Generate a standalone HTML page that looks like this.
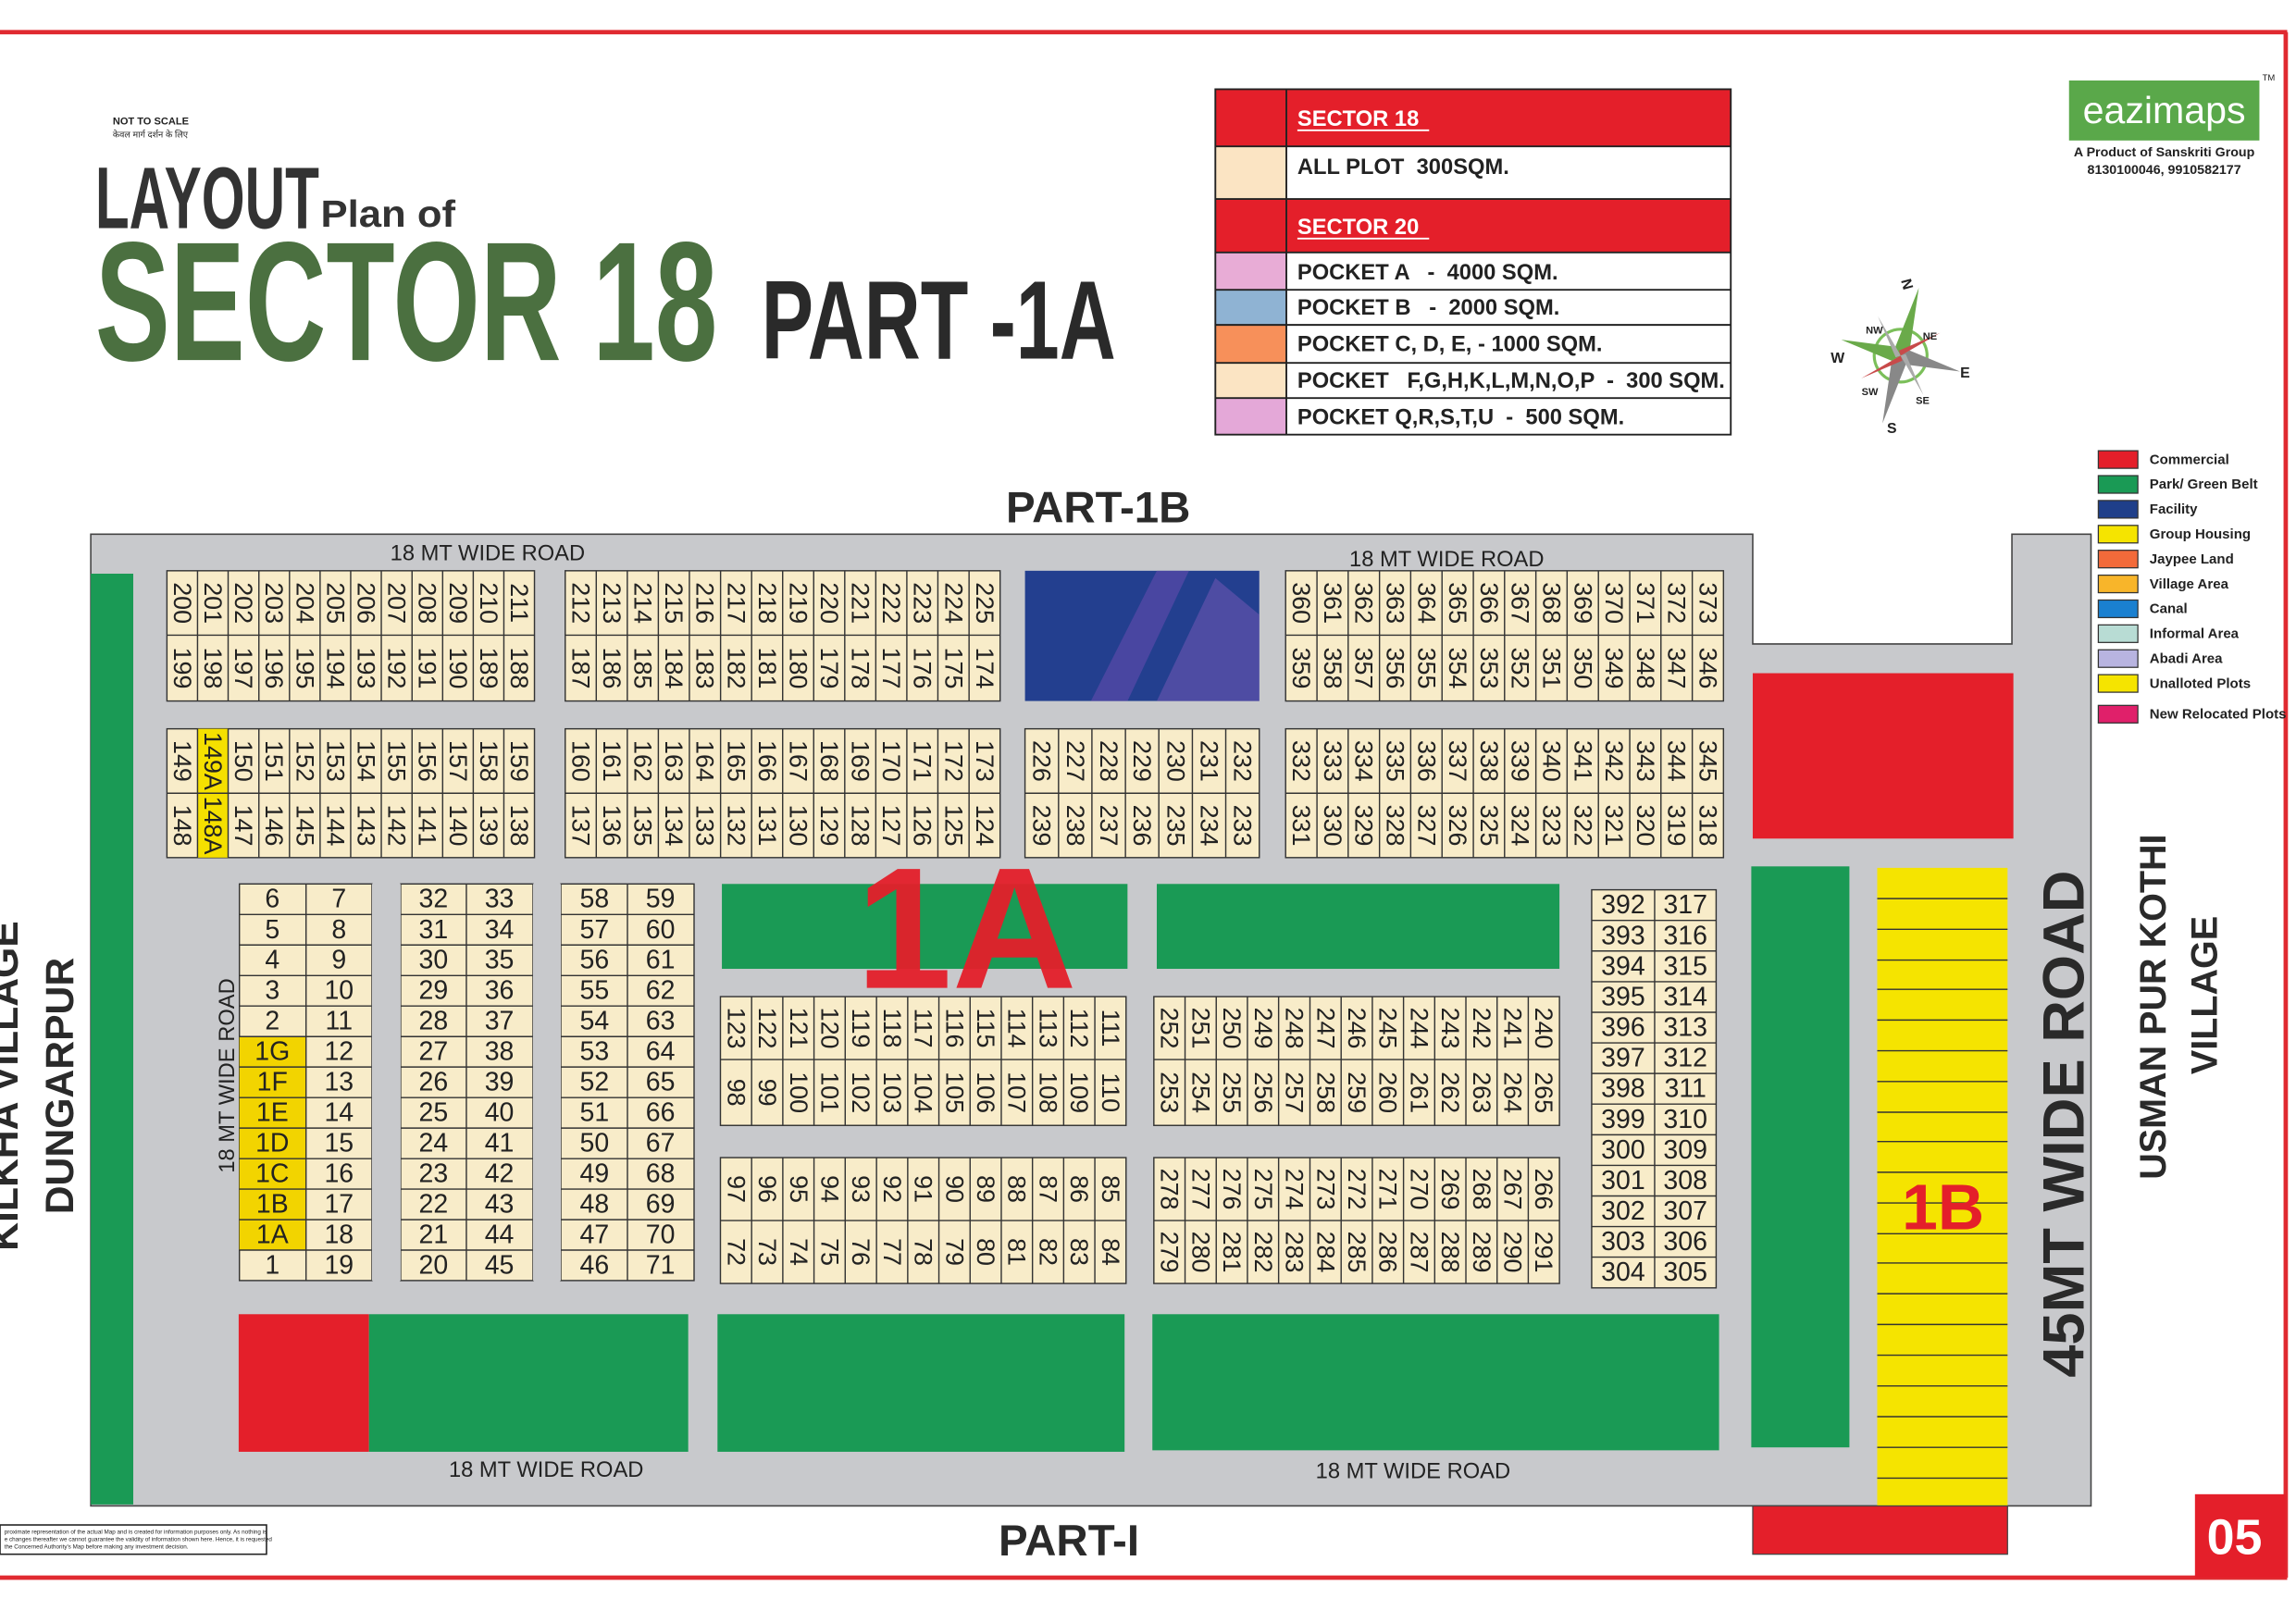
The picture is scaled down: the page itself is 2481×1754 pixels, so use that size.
<!DOCTYPE html>
<html><head><meta charset="utf-8"><style>
html,body{margin:0;padding:0;background:#fff;}
svg{display:block;}
text{font-family:"Liberation Sans",sans-serif;}
.v text{font-size:17px;text-anchor:middle;dominant-baseline:central;fill:#222;}
.h text{font-size:18px;text-anchor:middle;dominant-baseline:central;fill:#222;}
.blk{fill:#f8ecc9;stroke:#333;stroke-width:0.9;}
.ln{stroke:#333;stroke-width:0.9;fill:none;}
.lg text{font-size:15px;font-weight:bold;fill:#222;white-space:pre;}
.rl text{font-size:9.5px;font-weight:bold;fill:#222;}
</style></head><body>
<svg width="2481" height="1754" viewBox="0 0 1568 1109" preserveAspectRatio="none" xmlns="http://www.w3.org/2000/svg" xml:space="preserve">
<rect width="1568" height="1109" fill="#fff"/>
<line x1="0" y1="22" x2="1562" y2="22" stroke="#e02a30" stroke-width="3"/>
<line x1="1561" y1="22" x2="1561" y2="1078" stroke="#e02a30" stroke-width="3"/>
<line x1="0" y1="1078" x2="1562" y2="1078" stroke="#e02a30" stroke-width="3"/>
<rect x="1499" y="1021" width="62" height="57" fill="#e41f2a"/>
<text x="1526" y="1062" font-size="34" font-weight="bold" fill="#fff" text-anchor="middle">05</text>

<text x="77" y="85" font-size="7" font-weight="bold" fill="#222">NOT TO SCALE</text>
<text x="77" y="94" font-size="6" fill="#222" style="font-family:'Liberation Sans','DejaVu Sans',sans-serif">केवल मार्ग दर्शन के लिए</text>
<text x="65" y="156" font-size="60" font-weight="bold" fill="#333" textLength="153" lengthAdjust="spacingAndGlyphs">LAYOUT</text>
<text x="219" y="155" font-size="26" font-weight="bold" fill="#333" textLength="92" lengthAdjust="spacingAndGlyphs">Plan of</text>
<text x="65" y="246" font-size="116" font-weight="bold" fill="#4b7040" textLength="425" lengthAdjust="spacingAndGlyphs">SECTOR 18</text>
<text x="520" y="245" font-size="76" font-weight="bold" fill="#2a2a2a" textLength="242" lengthAdjust="spacingAndGlyphs">PART -1A</text>

<g>
<rect x="830" y="61" width="352" height="39" fill="#e41f2a"/>
<rect x="830" y="100" width="48.5" height="36" fill="#fbe4c3"/>
<rect x="830" y="136" width="352" height="36.5" fill="#e41f2a"/>
<rect x="830" y="172.5" width="48.5" height="25.5" fill="#e8acd6"/>
<rect x="830" y="198" width="48.5" height="24" fill="#8fb3d3"/>
<rect x="830" y="222" width="48.5" height="26" fill="#f7905a"/>
<rect x="830" y="248" width="48.5" height="24" fill="#fbe4c3"/>
<rect x="830" y="272" width="48.5" height="25" fill="#e4a8d8"/>
<path d="M830 61H1182V297H830Z M878.5 61V297 M830 100H1182 M830 136H1182 M830 172.5H1182 M830 198H1182 M830 222H1182 M830 248H1182 M830 272H1182" fill="none" stroke="#222" stroke-width="1.2"/>
<g class="lg">
<text x="886" y="86" style="fill:#fff">SECTOR 18</text>
<line x1="886" y1="89" x2="976" y2="89" stroke="#fff" stroke-width="1.2"/>
<text x="886" y="119">ALL PLOT  300SQM.</text>
<text x="886" y="160" style="fill:#fff">SECTOR 20</text>
<line x1="886" y1="163" x2="976" y2="163" stroke="#fff" stroke-width="1.2"/>
<text x="886" y="191">POCKET A   -  4000 SQM.</text>
<text x="886" y="215">POCKET B   -  2000 SQM.</text>
<text x="886" y="240">POCKET C, D, E, - 1000 SQM.</text>
<text x="886" y="265" textLength="292" lengthAdjust="spacingAndGlyphs">POCKET   F,G,H,K,L,M,N,O,P  -  300 SQM.</text>
<text x="886" y="290">POCKET Q,R,S,T,U  -  500 SQM.</text>
</g>
</g>

<rect x="1413" y="55" width="130" height="41" fill="#5aa84a"/>
<text x="1478" y="84" font-size="26" fill="#fff" text-anchor="middle">eazimaps</text>
<text x="1545" y="55" font-size="6" fill="#222">TM</text>
<text x="1478" y="107" font-size="9" font-weight="bold" fill="#222" text-anchor="middle">A Product of Sanskriti Group</text>
<text x="1478" y="119" font-size="9" font-weight="bold" fill="#222" text-anchor="middle">8130100046, 9910582177</text>

<g transform="translate(1298,243) rotate(15)">
<circle r="18" fill="none" stroke="#7bbf5a" stroke-width="2"/>
<polygon points="0,-48 5,-5 0,0 -5,-5" fill="#6aaa4a"/>
<polygon points="0,48 5,5 0,0 -5,5" fill="#888"/>
<polygon points="42,0 5,5 0,0 5,-5" fill="#888"/>
<polygon points="-42,0 -5,5 0,0 -5,-5" fill="#6aaa4a"/>
<polygon points="22,-22 3,-3 0,0 -2,-3" fill="#c84a4a"/>
<polygon points="-22,22 -3,3 0,0 2,3" fill="#c84a4a"/>
<polygon points="22,22 3,3 0,0 3,-2" fill="#aaa"/>
<polygon points="-22,-22 -3,-3 0,0 -3,2" fill="#aaa"/>
</g>
<g font-size="10" font-weight="bold" fill="#222" text-anchor="middle">
<text x="1303" y="198" transform="rotate(75 1303 194)">N</text>
<text x="1292" y="296">S</text>
<text x="1342" y="258">E</text>
<text x="1255" y="248">W</text>
<text x="1318" y="232" font-size="7">NE</text>
<text x="1280" y="228" font-size="7">NW</text>
<text x="1313" y="276" font-size="7">SE</text>
<text x="1277" y="270" font-size="7">SW</text>
</g>

<g class="rl">
<rect x="1433" y="308" width="27" height="12" fill="#e41f2a" stroke="#333" stroke-width="0.8"/><text x="1468" y="317">Commercial</text>
<rect x="1433" y="325" width="27" height="12" fill="#1a9a55" stroke="#333" stroke-width="0.8"/><text x="1468" y="334">Park/ Green Belt</text>
<rect x="1433" y="342" width="27" height="12" fill="#1f3f8a" stroke="#333" stroke-width="0.8"/><text x="1468" y="351">Facility</text>
<rect x="1433" y="359" width="27" height="12" fill="#f5e400" stroke="#333" stroke-width="0.8"/><text x="1468" y="368">Group Housing</text>
<rect x="1433" y="376" width="27" height="12" fill="#f26a3a" stroke="#333" stroke-width="0.8"/><text x="1468" y="385">Jaypee Land</text>
<rect x="1433" y="393" width="27" height="12" fill="#f8b52a" stroke="#333" stroke-width="0.8"/><text x="1468" y="402">Village Area</text>
<rect x="1433" y="410" width="27" height="12" fill="#1a80d0" stroke="#333" stroke-width="0.8"/><text x="1468" y="419">Canal</text>
<rect x="1433" y="427" width="27" height="12" fill="#b8dcd4" stroke="#333" stroke-width="0.8"/><text x="1468" y="436">Informal Area</text>
<rect x="1433" y="444" width="27" height="12" fill="#b8b4e0" stroke="#333" stroke-width="0.8"/><text x="1468" y="453">Abadi Area</text>
<rect x="1433" y="461" width="27" height="12" fill="#f5e400" stroke="#333" stroke-width="0.8"/><text x="1468" y="470">Unalloted Plots</text>
<rect x="1433" y="482" width="27" height="12" fill="#e0206a" stroke="#333" stroke-width="0.8"/><text x="1468" y="491">New Relocated Plots</text>
</g>

<text x="750" y="357" font-size="30" font-weight="bold" fill="#2a2a2a" text-anchor="middle">PART-1B</text>
<path d="M62 365H1197V440H1374V365H1428V1029H62Z" fill="#c8c9cc" stroke="#444" stroke-width="1"/>
<rect x="62" y="392" width="29" height="636" fill="#1a9a55"/>
<text x="333" y="383" font-size="15" fill="#222" text-anchor="middle">18 MT WIDE  ROAD</text>
<text x="988" y="387" font-size="15" fill="#222" text-anchor="middle">18 MT WIDE  ROAD</text>
<text x="373" y="1009" font-size="15" fill="#222" text-anchor="middle">18 MT WIDE  ROAD</text>
<text x="965" y="1010" font-size="15" fill="#222" text-anchor="middle">18 MT WIDE  ROAD</text>
<text transform="translate(160,735) rotate(-90)" font-size="15" fill="#222" text-anchor="middle">18 MT WIDE  ROAD</text>

<rect x="700" y="390" width="160" height="89" fill="#233f8f"/>
<polygon points="745,479 790,390 812,390 770,479" fill="#5a4aa8" opacity="0.7"/>
<polygon points="790,479 830,395 860,420 860,479" fill="#6a55b0" opacity="0.6"/>

<rect x="493" y="604" width="277" height="58" fill="#1a9a55"/>
<rect x="790" y="604" width="275" height="58" fill="#1a9a55"/>
<rect x="163" y="898" width="89" height="94" fill="#e41f2a"/>
<rect x="252" y="898" width="218" height="94" fill="#1a9a55"/>
<rect x="490" y="898" width="278" height="94" fill="#1a9a55"/>
<rect x="787" y="898" width="387" height="93" fill="#1a9a55"/>
<rect x="1197" y="460" width="178" height="113" fill="#e41f2a"/>
<rect x="1196" y="592" width="67" height="397" fill="#1a9a55"/>
<rect x="1282" y="593" width="89" height="436" fill="#f5e400"/>
<path class="ln" d="M1282 614H1371M1282 635H1371M1282 656H1371M1282 676H1371M1282 697H1371M1282 718H1371M1282 739H1371M1282 760H1371M1282 780H1371M1282 801H1371M1282 822H1371M1282 843H1371M1282 863H1371M1282 884H1371M1282 905H1371M1282 926H1371M1282 947H1371M1282 968H1371M1282 989H1371M1282 1010H1371"/>
<text x="1327" y="840" font-size="44" font-weight="bold" fill="#e41f2a" text-anchor="middle">1B</text>
<rect x="1197" y="1029" width="174" height="33" fill="#e41f2a" stroke="#444" stroke-width="0.8"/>

<rect class="blk" x="114" y="390" width="251" height="89"/>
<rect class="blk" x="386" y="390" width="297" height="89"/>
<rect class="blk" x="114" y="498" width="251" height="88"/>
<rect x="135" y="498" width="20.9" height="88" fill="#f5e000"/>
<rect class="blk" x="386" y="498" width="297" height="88"/>
<rect class="blk" x="700" y="498" width="160" height="88"/>
<rect class="blk" x="878" y="390" width="299" height="89"/>
<rect class="blk" x="878" y="498" width="299" height="88"/>
<rect class="blk" x="492" y="681" width="277" height="88"/>
<rect class="blk" x="492" y="791" width="277" height="86"/>
<rect class="blk" x="788" y="681" width="277" height="88"/>
<rect class="blk" x="788" y="791" width="277" height="86"/>
<rect class="blk" x="163.5" y="604" width="90.5" height="271"/>
<rect x="163.5" y="708.3" width="45.5" height="145.9" fill="#f2d400"/>
<rect class="blk" x="273.6" y="604" width="90.4" height="271"/>
<rect class="blk" x="383" y="604" width="91" height="271"/>
<rect class="blk" x="1087" y="608" width="85" height="272"/>
<path class="ln" d="
M114 434H365 M134.9 390V479M155.8 390V479M176.8 390V479M197.7 390V479M218.6 390V479M239.5 390V479M260.4 390V479M281.4 390V479M302.3 390V479M323.2 390V479M344.1 390V479
M114 542H365 M134.9 498V586M155.8 498V586M176.8 498V586M197.7 498V586M218.6 498V586M239.5 498V586M260.4 498V586M281.4 498V586M302.3 498V586M323.2 498V586M344.1 498V586
M386 434H683 M407.2 390V479M428.4 390V479M449.6 390V479M470.8 390V479M492.1 390V479M513.3 390V479M534.5 390V479M555.7 390V479M576.9 390V479M598.1 390V479M619.3 390V479M640.5 390V479M661.8 390V479
M386 542H683 M407.2 498V586M428.4 498V586M449.6 498V586M470.8 498V586M492.1 498V586M513.3 498V586M534.5 498V586M555.7 498V586M576.9 498V586M598.1 498V586M619.3 498V586M640.5 498V586M661.8 498V586
M700 542H860 M722.9 498V586M745.7 498V586M768.6 498V586M791.4 498V586M814.3 498V586M837.1 498V586
M878 434H1177 M899.4 390V479M920.7 390V479M942.1 390V479M963.4 390V479M984.8 390V479M1006.2 390V479M1027.5 390V479M1048.9 390V479M1070.2 390V479M1091.6 390V479M1113 390V479M1134.3 390V479M1155.7 390V479
M878 542H1177 M899.4 498V586M920.7 498V586M942.1 498V586M963.4 498V586M984.8 498V586M1006.2 498V586M1027.5 498V586M1048.9 498V586M1070.2 498V586M1091.6 498V586M1113 498V586M1134.3 498V586M1155.7 498V586
M492 724H769 M513.3 681V769M534.6 681V769M555.9 681V769M577.2 681V769M598.6 681V769M619.9 681V769M641.2 681V769M662.5 681V769M683.8 681V769M705.1 681V769M726.4 681V769M747.7 681V769
M492 834H769 M513.3 791V877M534.6 791V877M555.9 791V877M577.2 791V877M598.6 791V877M619.9 791V877M641.2 791V877M662.5 791V877M683.8 791V877M705.1 791V877M726.4 791V877M747.7 791V877
M788 724H1065 M809.3 681V769M830.6 681V769M851.9 681V769M873.2 681V769M894.6 681V769M915.9 681V769M937.2 681V769M958.5 681V769M979.8 681V769M1001.1 681V769M1022.4 681V769M1043.7 681V769
M788 834H1065 M809.3 791V877M830.6 791V877M851.9 791V877M873.2 791V877M894.6 791V877M915.9 791V877M937.2 791V877M958.5 791V877M979.8 791V877M1001.1 791V877M1022.4 791V877M1043.7 791V877
M209 604V875 M318.5 604V875 M428.5 604V875
M163.5 624.9H474M163.5 645.7H474M163.5 666.6H474M163.5 687.4H474M163.5 708.3H474M163.5 729.1H474M163.5 750H474M163.5 770.8H474M163.5 791.7H474M163.5 812.5H474M163.5 833.4H474M163.5 854.2H474
M1130 608V880 M1087 628.9H1172M1087 649.8H1172M1087 670.8H1172M1087 691.7H1172M1087 712.6H1172M1087 733.5H1172M1087 754.4H1172M1087 775.4H1172M1087 796.3H1172M1087 817.2H1172M1087 838.1H1172M1087 859H1172"/>
<rect x="254" y="604" width="19.6" height="271" fill="#c8c9cc"/>
<rect x="364" y="604" width="19" height="271" fill="#c8c9cc"/>

<g class="v" transform="rotate(90)">
<text x="412" y="-124.5">200</text><text x="412" y="-145.4">201</text><text x="412" y="-166.3">202</text><text x="412" y="-187.2">203</text><text x="412" y="-208.1">204</text><text x="412" y="-229">205</text><text x="412" y="-250">206</text><text x="412" y="-270.9">207</text><text x="412" y="-291.8">208</text><text x="412" y="-312.7">209</text><text x="412" y="-333.6">210</text><text x="412" y="-354.5">211</text>
<text x="456.5" y="-124.5">199</text><text x="456.5" y="-145.4">198</text><text x="456.5" y="-166.3">197</text><text x="456.5" y="-187.2">196</text><text x="456.5" y="-208.1">195</text><text x="456.5" y="-229">194</text><text x="456.5" y="-250">193</text><text x="456.5" y="-270.9">192</text><text x="456.5" y="-291.8">191</text><text x="456.5" y="-312.7">190</text><text x="456.5" y="-333.6">189</text><text x="456.5" y="-354.5">188</text>
<text x="520" y="-124.5">149</text><text x="520" y="-145.4">149A</text><text x="520" y="-166.3">150</text><text x="520" y="-187.2">151</text><text x="520" y="-208.1">152</text><text x="520" y="-229">153</text><text x="520" y="-250">154</text><text x="520" y="-270.9">155</text><text x="520" y="-291.8">156</text><text x="520" y="-312.7">157</text><text x="520" y="-333.6">158</text><text x="520" y="-354.5">159</text>
<text x="564" y="-124.5">148</text><text x="564" y="-145.4">148A</text><text x="564" y="-166.3">147</text><text x="564" y="-187.2">146</text><text x="564" y="-208.1">145</text><text x="564" y="-229">144</text><text x="564" y="-250">143</text><text x="564" y="-270.9">142</text><text x="564" y="-291.8">141</text><text x="564" y="-312.7">140</text><text x="564" y="-333.6">139</text><text x="564" y="-354.5">138</text>

<text x="412" y="-396.6">212</text><text x="412" y="-417.8">213</text><text x="412" y="-439">214</text><text x="412" y="-460.2">215</text><text x="412" y="-481.4">216</text><text x="412" y="-502.7">217</text><text x="412" y="-523.9">218</text><text x="412" y="-545.1">219</text><text x="412" y="-566.3">220</text><text x="412" y="-587.5">221</text><text x="412" y="-608.7">222</text><text x="412" y="-629.9">223</text><text x="412" y="-651.2">224</text><text x="412" y="-672.4">225</text>
<text x="456.5" y="-396.6">187</text><text x="456.5" y="-417.8">186</text><text x="456.5" y="-439">185</text><text x="456.5" y="-460.2">184</text><text x="456.5" y="-481.4">183</text><text x="456.5" y="-502.7">182</text><text x="456.5" y="-523.9">181</text><text x="456.5" y="-545.1">180</text><text x="456.5" y="-566.3">179</text><text x="456.5" y="-587.5">178</text><text x="456.5" y="-608.7">177</text><text x="456.5" y="-629.9">176</text><text x="456.5" y="-651.2">175</text><text x="456.5" y="-672.4">174</text>
<text x="520" y="-396.6">160</text><text x="520" y="-417.8">161</text><text x="520" y="-439">162</text><text x="520" y="-460.2">163</text><text x="520" y="-481.4">164</text><text x="520" y="-502.7">165</text><text x="520" y="-523.9">166</text><text x="520" y="-545.1">167</text><text x="520" y="-566.3">168</text><text x="520" y="-587.5">169</text><text x="520" y="-608.7">170</text><text x="520" y="-629.9">171</text><text x="520" y="-651.2">172</text><text x="520" y="-672.4">173</text>
<text x="564" y="-396.6">137</text><text x="564" y="-417.8">136</text><text x="564" y="-439">135</text><text x="564" y="-460.2">134</text><text x="564" y="-481.4">133</text><text x="564" y="-502.7">132</text><text x="564" y="-523.9">131</text><text x="564" y="-545.1">130</text><text x="564" y="-566.3">129</text><text x="564" y="-587.5">128</text><text x="564" y="-608.7">127</text><text x="564" y="-629.9">126</text><text x="564" y="-651.2">125</text><text x="564" y="-672.4">124</text>

<text x="520" y="-711.4">226</text><text x="520" y="-734.3">227</text><text x="520" y="-757.1">228</text><text x="520" y="-780">229</text><text x="520" y="-802.9">230</text><text x="520" y="-825.7">231</text><text x="520" y="-848.6">232</text>
<text x="564" y="-711.4">239</text><text x="564" y="-734.3">238</text><text x="564" y="-757.1">237</text><text x="564" y="-780">236</text><text x="564" y="-802.9">235</text><text x="564" y="-825.7">234</text><text x="564" y="-848.6">233</text>

<text x="412" y="-888.7">360</text><text x="412" y="-910">361</text><text x="412" y="-931.4">362</text><text x="412" y="-952.8">363</text><text x="412" y="-974.1">364</text><text x="412" y="-995.5">365</text><text x="412" y="-1016.9">366</text><text x="412" y="-1038.2">367</text><text x="412" y="-1059.6">368</text><text x="412" y="-1080.9">369</text><text x="412" y="-1102.3">370</text><text x="412" y="-1123.7">371</text><text x="412" y="-1145">372</text><text x="412" y="-1166.3">373</text>
<text x="456.5" y="-888.7">359</text><text x="456.5" y="-910">358</text><text x="456.5" y="-931.4">357</text><text x="456.5" y="-952.8">356</text><text x="456.5" y="-974.1">355</text><text x="456.5" y="-995.5">354</text><text x="456.5" y="-1016.9">353</text><text x="456.5" y="-1038.2">352</text><text x="456.5" y="-1059.6">351</text><text x="456.5" y="-1080.9">350</text><text x="456.5" y="-1102.3">349</text><text x="456.5" y="-1123.7">348</text><text x="456.5" y="-1145">347</text><text x="456.5" y="-1166.3">346</text>
<text x="520" y="-888.7">332</text><text x="520" y="-910">333</text><text x="520" y="-931.4">334</text><text x="520" y="-952.8">335</text><text x="520" y="-974.1">336</text><text x="520" y="-995.5">337</text><text x="520" y="-1016.9">338</text><text x="520" y="-1038.2">339</text><text x="520" y="-1059.6">340</text><text x="520" y="-1080.9">341</text><text x="520" y="-1102.3">342</text><text x="520" y="-1123.7">343</text><text x="520" y="-1145">344</text><text x="520" y="-1166.3">345</text>
<text x="564" y="-888.7">331</text><text x="564" y="-910">330</text><text x="564" y="-931.4">329</text><text x="564" y="-952.8">328</text><text x="564" y="-974.1">327</text><text x="564" y="-995.5">326</text><text x="564" y="-1016.9">325</text><text x="564" y="-1038.2">324</text><text x="564" y="-1059.6">323</text><text x="564" y="-1080.9">322</text><text x="564" y="-1102.3">321</text><text x="564" y="-1123.7">320</text><text x="564" y="-1145">319</text><text x="564" y="-1166.3">318</text>

<text x="702.5" y="-502.7">123</text><text x="702.5" y="-524">122</text><text x="702.5" y="-545.3">121</text><text x="702.5" y="-566.6">120</text><text x="702.5" y="-587.9">119</text><text x="702.5" y="-609.2">118</text><text x="702.5" y="-630.5">117</text><text x="702.5" y="-651.8">116</text><text x="702.5" y="-673.1">115</text><text x="702.5" y="-694.4">114</text><text x="702.5" y="-715.7">113</text><text x="702.5" y="-737">112</text><text x="702.5" y="-758.3">111</text>
<text x="746.5" y="-502.7">98</text><text x="746.5" y="-524">99</text><text x="746.5" y="-545.3">100</text><text x="746.5" y="-566.6">101</text><text x="746.5" y="-587.9">102</text><text x="746.5" y="-609.2">103</text><text x="746.5" y="-630.5">104</text><text x="746.5" y="-651.8">105</text><text x="746.5" y="-673.1">106</text><text x="746.5" y="-694.4">107</text><text x="746.5" y="-715.7">108</text><text x="746.5" y="-737">109</text><text x="746.5" y="-758.3">110</text>
<text x="812.5" y="-502.7">97</text><text x="812.5" y="-524">96</text><text x="812.5" y="-545.3">95</text><text x="812.5" y="-566.6">94</text><text x="812.5" y="-587.9">93</text><text x="812.5" y="-609.2">92</text><text x="812.5" y="-630.5">91</text><text x="812.5" y="-651.8">90</text><text x="812.5" y="-673.1">89</text><text x="812.5" y="-694.4">88</text><text x="812.5" y="-715.7">87</text><text x="812.5" y="-737">86</text><text x="812.5" y="-758.3">85</text>
<text x="855.5" y="-502.7">72</text><text x="855.5" y="-524">73</text><text x="855.5" y="-545.3">74</text><text x="855.5" y="-566.6">75</text><text x="855.5" y="-587.9">76</text><text x="855.5" y="-609.2">77</text><text x="855.5" y="-630.5">78</text><text x="855.5" y="-651.8">79</text><text x="855.5" y="-673.1">80</text><text x="855.5" y="-694.4">81</text><text x="855.5" y="-715.7">82</text><text x="855.5" y="-737">83</text><text x="855.5" y="-758.3">84</text>

<text x="702.5" y="-798.7">252</text><text x="702.5" y="-820">251</text><text x="702.5" y="-841.3">250</text><text x="702.5" y="-862.6">249</text><text x="702.5" y="-883.9">248</text><text x="702.5" y="-905.2">247</text><text x="702.5" y="-926.5">246</text><text x="702.5" y="-947.8">245</text><text x="702.5" y="-969.1">244</text><text x="702.5" y="-990.4">243</text><text x="702.5" y="-1011.7">242</text><text x="702.5" y="-1033">241</text><text x="702.5" y="-1054.3">240</text>
<text x="746.5" y="-798.7">253</text><text x="746.5" y="-820">254</text><text x="746.5" y="-841.3">255</text><text x="746.5" y="-862.6">256</text><text x="746.5" y="-883.9">257</text><text x="746.5" y="-905.2">258</text><text x="746.5" y="-926.5">259</text><text x="746.5" y="-947.8">260</text><text x="746.5" y="-969.1">261</text><text x="746.5" y="-990.4">262</text><text x="746.5" y="-1011.7">263</text><text x="746.5" y="-1033">264</text><text x="746.5" y="-1054.3">265</text>
<text x="812.5" y="-798.7">278</text><text x="812.5" y="-820">277</text><text x="812.5" y="-841.3">276</text><text x="812.5" y="-862.6">275</text><text x="812.5" y="-883.9">274</text><text x="812.5" y="-905.2">273</text><text x="812.5" y="-926.5">272</text><text x="812.5" y="-947.8">271</text><text x="812.5" y="-969.1">270</text><text x="812.5" y="-990.4">269</text><text x="812.5" y="-1011.7">268</text><text x="812.5" y="-1033">267</text><text x="812.5" y="-1054.3">266</text>
<text x="855.5" y="-798.7">279</text><text x="855.5" y="-820">280</text><text x="855.5" y="-841.3">281</text><text x="855.5" y="-862.6">282</text><text x="855.5" y="-883.9">283</text><text x="855.5" y="-905.2">284</text><text x="855.5" y="-926.5">285</text><text x="855.5" y="-947.8">286</text><text x="855.5" y="-969.1">287</text><text x="855.5" y="-990.4">288</text><text x="855.5" y="-1011.7">289</text><text x="855.5" y="-1033">290</text><text x="855.5" y="-1054.3">291</text>
</g>

<g class="h">
<text x="186" y="614.4">6</text><text x="186" y="635.3">5</text><text x="186" y="656.1">4</text><text x="186" y="677">3</text><text x="186" y="697.8">2</text><text x="186" y="718.7">1G</text><text x="186" y="739.5">1F</text><text x="186" y="760.4">1E</text><text x="186" y="781.2">1D</text><text x="186" y="802.1">1C</text><text x="186" y="822.9">1B</text><text x="186" y="843.8">1A</text><text x="186" y="864.6">1</text>
<text x="231.5" y="614.4">7</text><text x="231.5" y="635.3">8</text><text x="231.5" y="656.1">9</text><text x="231.5" y="677">10</text><text x="231.5" y="697.8">11</text><text x="231.5" y="718.7">12</text><text x="231.5" y="739.5">13</text><text x="231.5" y="760.4">14</text><text x="231.5" y="781.2">15</text><text x="231.5" y="802.1">16</text><text x="231.5" y="822.9">17</text><text x="231.5" y="843.8">18</text><text x="231.5" y="864.6">19</text>
<text x="296" y="614.4">32</text><text x="296" y="635.3">31</text><text x="296" y="656.1">30</text><text x="296" y="677">29</text><text x="296" y="697.8">28</text><text x="296" y="718.7">27</text><text x="296" y="739.5">26</text><text x="296" y="760.4">25</text><text x="296" y="781.2">24</text><text x="296" y="802.1">23</text><text x="296" y="822.9">22</text><text x="296" y="843.8">21</text><text x="296" y="864.6">20</text>
<text x="341" y="614.4">33</text><text x="341" y="635.3">34</text><text x="341" y="656.1">35</text><text x="341" y="677">36</text><text x="341" y="697.8">37</text><text x="341" y="718.7">38</text><text x="341" y="739.5">39</text><text x="341" y="760.4">40</text><text x="341" y="781.2">41</text><text x="341" y="802.1">42</text><text x="341" y="822.9">43</text><text x="341" y="843.8">44</text><text x="341" y="864.6">45</text>
<text x="406" y="614.4">58</text><text x="406" y="635.3">57</text><text x="406" y="656.1">56</text><text x="406" y="677">55</text><text x="406" y="697.8">54</text><text x="406" y="718.7">53</text><text x="406" y="739.5">52</text><text x="406" y="760.4">51</text><text x="406" y="781.2">50</text><text x="406" y="802.1">49</text><text x="406" y="822.9">48</text><text x="406" y="843.8">47</text><text x="406" y="864.6">46</text>
<text x="451" y="614.4">59</text><text x="451" y="635.3">60</text><text x="451" y="656.1">61</text><text x="451" y="677">62</text><text x="451" y="697.8">63</text><text x="451" y="718.7">64</text><text x="451" y="739.5">65</text><text x="451" y="760.4">66</text><text x="451" y="781.2">67</text><text x="451" y="802.1">68</text><text x="451" y="822.9">69</text><text x="451" y="843.8">70</text><text x="451" y="864.6">71</text>
<text x="1108.5" y="618.5">392</text><text x="1108.5" y="639.4">393</text><text x="1108.5" y="660.3">394</text><text x="1108.5" y="681.3">395</text><text x="1108.5" y="702.2">396</text><text x="1108.5" y="723.1">397</text><text x="1108.5" y="744">398</text><text x="1108.5" y="764.9">399</text><text x="1108.5" y="785.9">300</text><text x="1108.5" y="806.8">301</text><text x="1108.5" y="827.7">302</text><text x="1108.5" y="848.6">303</text><text x="1108.5" y="869.5">304</text>
<text x="1151" y="618.5">317</text><text x="1151" y="639.4">316</text><text x="1151" y="660.3">315</text><text x="1151" y="681.3">314</text><text x="1151" y="702.2">313</text><text x="1151" y="723.1">312</text><text x="1151" y="744">311</text><text x="1151" y="764.9">310</text><text x="1151" y="785.9">309</text><text x="1151" y="806.8">308</text><text x="1151" y="827.7">307</text><text x="1151" y="848.6">306</text><text x="1151" y="869.5">305</text>
</g>

<text x="660" y="675" font-size="118" font-weight="bold" fill="#e41f2a" text-anchor="middle" opacity="0.95">1A</text>

<text transform="translate(12,742) rotate(-90)" font-size="27" font-weight="bold" fill="#2a2a2a" text-anchor="middle">KILKHA VILLAGE</text>
<text transform="translate(50,742) rotate(-90)" font-size="27" font-weight="bold" fill="#2a2a2a" text-anchor="middle">DUNGARPUR</text>
<text transform="translate(1423,768) rotate(-90)" font-size="40" font-weight="bold" fill="#2a2a2a" text-anchor="middle">45MT WIDE ROAD</text>
<text transform="translate(1479,688) rotate(-90)" font-size="25" font-weight="bold" fill="#2a2a2a" text-anchor="middle">USMAN PUR KOTHI</text>
<text transform="translate(1514,680) rotate(-90)" font-size="25" font-weight="bold" fill="#2a2a2a" text-anchor="middle">VILLAGE</text>
<text x="730" y="1063" font-size="30" font-weight="bold" fill="#2a2a2a" text-anchor="middle">PART-I</text>

<rect x="0" y="1042" width="182" height="20" fill="#fff" stroke="#222" stroke-width="1"/>
<text x="3" y="1048" font-size="4" fill="#222">proximate representation of the actual Map and is created for information purposes only. As nothing is</text>
<text x="3" y="1053" font-size="4" fill="#222">e changes thereafter we cannot guarantee the validity of information shown here. Hence, it is requested</text>
<text x="3" y="1058" font-size="4" fill="#222">the Concerned Authority's Map before making any investment decision.</text>
</svg>
</body></html>
